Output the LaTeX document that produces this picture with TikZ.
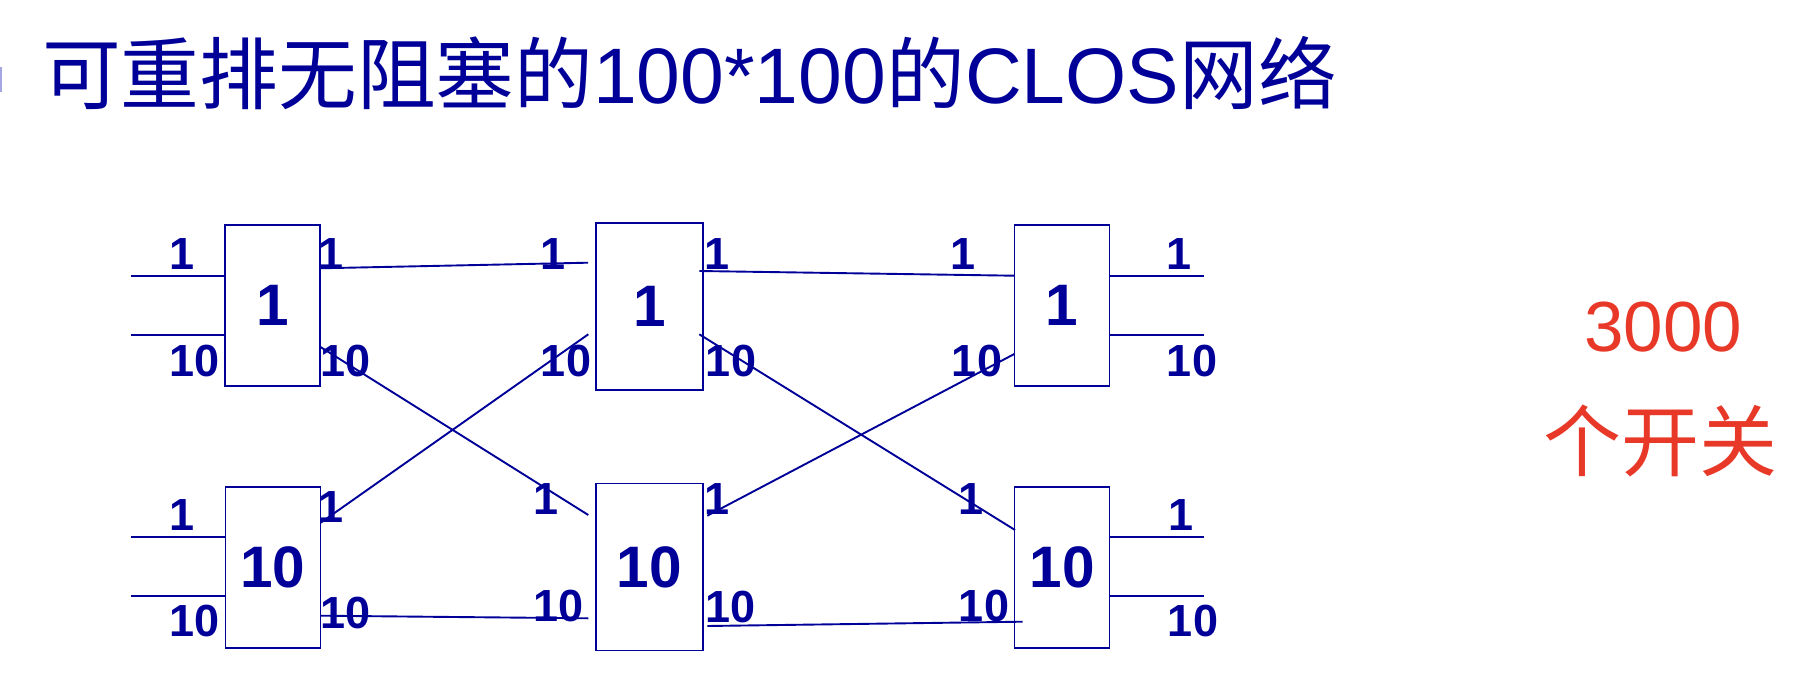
\documentclass[tikz,border=0pt]{standalone}
\usepackage{fontspec}
\setmainfont{Liberation Sans}
\newfontfamily\cjk{Noto Sans CJK SC}
\definecolor{navy}{RGB}{0,0,153}
\definecolor{redtxt}{RGB}{232,56,40}
\definecolor{bulletc}{RGB}{165,165,225}
\begin{document}
\begin{tikzpicture}[x=1pt,y=-1pt,
  sw/.style={draw=navy,line width=1.9pt,inner sep=0,minimum width=95pt,minimum height=161pt,
    font=\fontsize{58.5}{60}\selectfont\bfseries,text=navy},
  swb/.style={sw,minimum width=106.7pt,minimum height=167pt},
  lbl/.style={inner sep=0,text=navy,font=\fontsize{45}{46}\selectfont\bfseries},
  wire/.style={draw=navy,line width=1.9pt}]
\useasboundingbox (0,0) rectangle (1814,698);

% title
\fill[bulletc] (0,67) rectangle (2,92);
\node[anchor=base west,inner sep=0,text=navy,font=\fontsize{78.7}{80}\selectfont] (title) at (42,104)
  {{\cjk 可重排无阻塞的}100*100{\cjk 的}CLOS{\cjk 网络}};

% red note
\node[inner sep=0,text=redtxt,font=\fontsize{71}{74}\selectfont] (cnt) at (1663,327) {3000};
\node[inner sep=0,text=redtxt,font=\cjk\fontsize{78}{80}\selectfont] (kg) at (1660,441) {个开关};

% switches
\node[sw] (A1) at (272.7,305.5) {1};
\node[sw] (A2) at (273,567.5) {10};
\node[swb] (B1) at (649.3,306.3) {1};
\node[swb] (B2) at (649.3,567) {10};
\node[sw] (C1) at (1062,305.5) {1};
\node[sw] (C2) at (1062,567.5) {10};

% input / output wires
\coordinate (in11) at (130.7,275.7);
\coordinate (in110) at (130.7,334.7);
\coordinate (in21) at (130.7,536.7);
\coordinate (in210) at (130.7,595.7);
\coordinate (out11) at (1204.3,275.7);
\coordinate (out110) at (1204.3,334.7);
\coordinate (out21) at (1204.3,536.7);
\coordinate (out210) at (1204.3,595.7);
\draw[wire] (in11) -- (A1.west |- in11);
\draw[wire] (in110) -- (A1.west |- in110);
\draw[wire] (in21) -- (A2.west |- in21);
\draw[wire] (in210) -- (A2.west |- in210);
\draw[wire] (C1.east |- out11) -- (out11);
\draw[wire] (C1.east |- out110) -- (out110);
\draw[wire] (C2.east |- out21) -- (out21);
\draw[wire] (C2.east |- out210) -- (out210);

% inter-stage ports
\coordinate (p1) at (320,268.3);   \coordinate (q1) at (588,262.7);
\coordinate (p2) at (320,346.7);   \coordinate (q2) at (588.3,515);
\coordinate (p3) at (320.7,522.7); \coordinate (q3) at (588.3,334.3);
\coordinate (p4) at (320.7,615.7); \coordinate (q4) at (588.3,618.3);
\coordinate (p5) at (699.3,271);   \coordinate (q5) at (1014.3,275.7);
\coordinate (p6) at (699.3,334.3); \coordinate (q6) at (1015,530);
\coordinate (p7) at (707.3,515.7); \coordinate (q7) at (1014.3,354);
\coordinate (p8) at (707.3,626);   \coordinate (q8) at (1022.7,621.7);
\draw[wire] (p1) -- (q1);
\draw[wire] (p2) -- (q2);
\draw[wire] (p3) -- (q3);
\draw[wire] (p4) -- (q4);
\draw[wire] (p5) -- (q5);
\draw[wire] (p6) -- (q6);
\draw[wire] (p7) -- (q7);
\draw[wire] (p8) -- (q8);

% labels column 1
\node[lbl] (a1i1) at (182,254) {1};
\node[lbl] (a1i10) at (195,361) {10};
\node[lbl] (a1o1) at (331.5,254) {1};
\node[lbl] (a1o10) at (345.5,361) {10};
\node[lbl] (a2i1) at (182,515) {1};
\node[lbl] (a2i10) at (195,621) {10};
\node[lbl] (a2o1) at (331.5,507.5) {1};
\node[lbl] (a2o10) at (346,613) {10};
% labels column 2
\node[lbl] (b1i1) at (553,254) {1};
\node[lbl] (b1i10) at (566,361) {10};
\node[lbl] (b1o1) at (717.3,254) {1};
\node[lbl] (b1o10) at (731,361) {10};
\node[lbl] (b2i1) at (546,499) {1};
\node[lbl] (b2i10) at (558.7,606) {10};
\node[lbl] (b2o1) at (717,499) {1};
\node[lbl] (b2o10) at (730.5,606.7) {10};
% labels column 3
\node[lbl] (c1i1) at (962.7,254) {1};
\node[lbl] (c1i10) at (977,361) {10};
\node[lbl] (c1o1) at (1179,254) {1};
\node[lbl] (c1o10) at (1192,361) {10};
\node[lbl] (c2i1) at (970.5,499) {1};
\node[lbl] (c2i10) at (984,606) {10};
\node[lbl] (c2o1) at (1181,515) {1};
\node[lbl] (c2o10) at (1193,621) {10};
\end{tikzpicture}
\end{document}
